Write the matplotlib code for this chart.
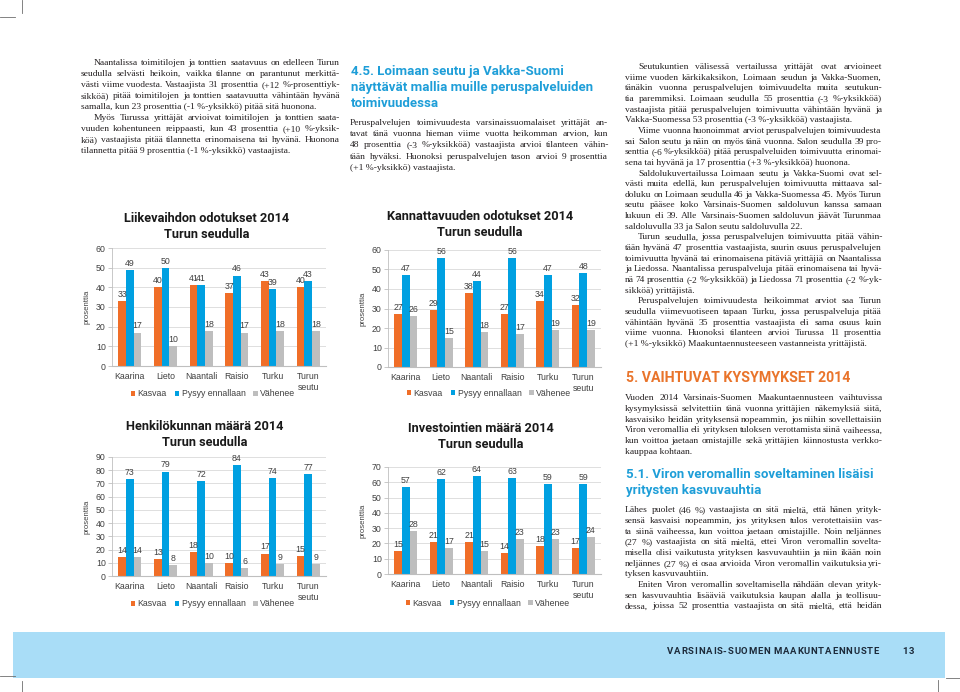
import numpy as np
import matplotlib.pyplot as plt
from matplotlib.patches import Rectangle
from matplotlib.lines import Line2D

plt.rcParams['font.family'] = 'Liberation Sans'

# --- chart data -------------------------------------------------------------
cats = ['Kaarina', 'Lieto', 'Naantali', 'Raisio', 'Turku', 'Turun\nseutu']
series_names = ['Kasvaa', 'Pysyy ennallaan', 'Vähenee']

liikevaihto_kasvaa = [33, 40, 41, 37, 43, 40]
liikevaihto_pysyy = [49, 50, 41, 46, 39, 43]
liikevaihto_vahenee = [17, 10, 18, 17, 18, 18]

kannattavuus_kasvaa = [27, 29, 38, 27, 34, 32]
kannattavuus_pysyy = [47, 56, 44, 56, 47, 48]
kannattavuus_vahenee = [26, 15, 18, 17, 19, 19]

henkilokunta_kasvaa = [14, 13, 18, 10, 17, 15]
henkilokunta_pysyy = [73, 79, 72, 84, 74, 77]
henkilokunta_vahenee = [14, 8, 10, 6, 9, 9]

investoinnit_kasvaa = [15, 21, 21, 14, 18, 17]
investoinnit_pysyy = [57, 62, 64, 63, 59, 59]
investoinnit_vahenee = [28, 17, 15, 23, 23, 24]

# --- page text --------------------------------------------------------------
left_par1 = [
    'Naantalissa toimitilojen ja tonttien saatavuus on edelleen Turun',
    'seudulla selvästi heikoin, vaikka tilanne on parantunut merkittä-',
    'västi viime vuodesta. Vastaajista 31 prosenttia (+12 %-prosenttiyk-',
    'sikköä) pitää toimitilojen ja tonttien saatavuutta vähintään hyvänä',
    'samalla, kun 23 prosenttia (-1 %-yksikkö) pitää sitä huonona.',
]
left_par2 = [
    'Myös Turussa yrittäjät arvioivat toimitilojen ja tonttien saata-',
    'vuuden kohentuneen reippaasti, kun 43 prosenttia (+10 %-yksik-',
    'köä) vastaajista pitää tilannetta erinomaisena tai hyvänä. Huonona',
    'tilannetta pitää 9 prosenttia (-1 %-yksikkö) vastaajista.',
]
mid_heading = ['4.5. Loimaan seutu ja Vakka-Suomi',
               'näyttävät mallia muille peruspalveluiden',
               'toimivuudessa']
mid_par = [
    'Peruspalvelujen toimivuudesta varsinaissuomalaiset yrittäjät an-',
    'tavat tänä vuonna hieman viime vuotta heikomman arvion, kun',
    '48 prosenttia (-3 %-yksikköä) vastaajista arvioi tilanteen vähin-',
    'tään hyväksi. Huonoksi peruspalvelujen tason arvioi 9 prosenttia',
    '(+1 %-yksikkö) vastaajista.',
]
right_pars = [
    ['Seutukuntien välisessä vertailussa yrittäjät ovat arvioineet',
     'viime vuoden kärkikaksikon, Loimaan seudun ja Vakka-Suomen,',
     'tänäkin vuonna peruspalvelujen toimivuudelta muita seutukun-',
     'tia paremmiksi. Loimaan seudulla 55 prosenttia (-3 %-yksikköä)',
     'vastaajista pitää peruspalvelujen toimivuutta vähintään hyvänä ja',
     'Vakka-Suomessa 53 prosenttia (-3 %-yksikköä) vastaajista.'],
    ['Viime vuonna huonoimmat arviot peruspalvelujen toimivuudesta',
     'sai Salon seutu ja näin on myös tänä vuonna. Salon seudulla 39 pro-',
     'senttia (-6 %-yksikköä) pitää peruspalveluiden toimivuutta erinomai-',
     'sena tai hyvänä ja 17 prosenttia (+3 %-yksikköä) huonona.'],
    ['Saldolukuvertailussa Loimaan seutu ja Vakka-Suomi ovat sel-',
     'västi muita edellä, kun peruspalvelujen toimivuutta mittaava sal-',
     'doluku on Loimaan seudulla 46 ja Vakka-Suomessa 45. Myös Turun',
     'seutu pääsee koko Varsinais-Suomen saldoluvun kanssa samaan',
     'lukuun eli 39. Alle Varsinais-Suomen saldoluvun jäävät Turunmaa',
     'saldoluvulla 33 ja Salon seutu saldoluvulla 22.'],
    ['Turun seudulla, jossa peruspalvelujen toimivuutta pitää vähin-',
     'tään hyvänä 47 prosenttia vastaajista, suurin osuus peruspalvelujen',
     'toimivuutta hyvänä tai erinomaisena pitäviä yrittäjiä on Naantalissa',
     'ja Liedossa. Naantalissa peruspalveluja pitää erinomaisena tai hyvä-',
     'nä 74 prosenttia (-2 %-yksikköä) ja Liedossa 71 prosenttia (-2 %-yk-',
     'sikköä) yrittäjistä.'],
    ['Peruspalvelujen toimivuudesta heikoimmat arviot saa Turun',
     'seudulla viimevuotiseen tapaan Turku, jossa peruspalveluja pitää',
     'vähintään hyvänä 35 prosenttia vastaajista eli sama osuus kuin',
     'viime vuonna. Huonoksi tilanteen arvioi Turussa 11 prosenttia',
     '(+1 %-yksikkö) Maakuntaennusteeseen vastanneista yrittäjistä.'],
]
section5_heading = '5. VAIHTUVAT KYSYMYKSET 2014'
section5_par = [
    'Vuoden 2014 Varsinais-Suomen Maakuntaennusteen vaihtuvissa',
    'kysymyksissä selvitettiin tänä vuonna yrittäjien näkemyksiä siitä,',
    'kasvaisiko heidän yrityksensä nopeammin, jos niihin sovellettaisiin',
    'Viron veromallia eli yrityksen tuloksen verottamista siinä vaiheessa,',
    'kun voittoa jaetaan omistajille sekä yrittäjien kiinnostusta verkko-',
    'kauppaa kohtaan.',
]
section51_heading = ['5.1. Viron veromallin soveltaminen lisäisi',
                     'yritysten kasvuvauhtia']
section51_par1 = [
    'Lähes puolet (46 %) vastaajista on sitä mieltä, että hänen yrityk-',
    'sensä kasvaisi nopeammin, jos yrityksen tulos verotettaisiin vas-',
    'ta siinä vaiheessa, kun voittoa jaetaan omistajille. Noin neljännes',
    '(27 %) vastaajista on sitä mieltä, ettei Viron veromallin sovelta-',
    'misella olisi vaikutusta yrityksen kasvuvauhtiin ja niin ikään noin',
    'neljännes (27 %) ei osaa arvioida Viron veromallin vaikutuksia yri-',
    'tyksen kasvuvauhtiin.',
]
section51_par2 = [
    'Eniten Viron veromallin soveltamisella nähdään olevan yrityk-',
    'sen kasvuvauhtia lisääviä vaikutuksia kaupan alalla ja teollisuu-',
    'dessa, joissa 52 prosenttia vastaajista on sitä mieltä, että heidän',
]
footer_text = 'VARSINAIS-SUOMEN MAAKUNTAENNUSTE'
page_number = '13'

# --- styles -----------------------------------------------------------------
W, H = 960, 692
ORANGE = '#F06E28'
BLUE = '#00A0E1'
GRAY = '#BEBEBE'
HEAD_BLUE = '#1E9ED8'
HEAD_ORANGE = '#E9742B'
TXT = '#231F20'
SERIF = 'Liberation Serif'
HEAD = 'Roboto'
BODY = 6.8
LS = 10.65
MIN_GAP = 1.8

fig = plt.figure(figsize=(9.6, 6.92), dpi=100)
renderer = fig.canvas.get_renderer()


def P(x, y):
    # page pixels (from top-left) -> figure fraction
    return x / W, 1 - y / H


def justify(line, x0, x1, y):
    words = line.split(' ')
    items = [fig.text(0, 0, w, fontsize=BODY, family=SERIF, color=TXT,
                      va='baseline') for w in words]
    widths = [t.get_window_extent(renderer).width for t in items]
    n_gaps = max(len(words) - 1, 1)
    gap = (x1 - x0 - sum(widths)) / n_gaps
    if gap < MIN_GAP:
        # too long a line: squeeze the type a little instead of the spaces
        k = (x1 - x0 - MIN_GAP * n_gaps) / sum(widths)
        for t in items:
            t.set_fontsize(BODY * k)
        widths = [wd * k for wd in widths]
        gap = MIN_GAP
    x = x0
    for t, wd in zip(items, widths):
        t.set_position(P(x, y))
        x += wd + gap


def paragraph(lines, x0, x1, y0, indent=13, ls=LS, last_full=False):
    for i, line in enumerate(lines):
        y = y0 + i * ls + 3
        xs = x0 + (indent if i == 0 else 0)
        if i == len(lines) - 1 and not last_full:
            fig.text(*P(xs, y), line, fontsize=BODY, family=SERIF,
                     color=TXT, va='baseline')
        else:
            justify(line, xs, x1, y)


def tracked(s, x, y, size, track, color):
    for ch in s:
        if ch == ' ':
            x += size * 0.35
            continue
        t = fig.text(*P(x, y), ch, fontsize=size, family=HEAD,
                     weight='bold', color=color, va='baseline')
        x += t.get_window_extent(renderer).width + track


# --- body text --------------------------------------------------------------
paragraph(left_par1, 81, 340, 62, ls=11.0)
paragraph(left_par2, 81, 340, 62 + 5 * 11.0, ls=11.0)

for i, line in enumerate(mid_heading):
    fig.text(*P(351, 70 + i * 16 + 5), line, fontsize=9.5, family=HEAD,
             weight='bold', color=HEAD_BLUE, va='baseline')
paragraph(mid_par, 350, 608, 122, indent=0, ls=11.2)

y = 66
for par in right_pars:
    paragraph(par, 625, 882, y)
    y += len(par) * LS

fig.text(*P(626, 376 + 5.5), section5_heading, fontsize=10.2, family=HEAD,
         weight='bold', color=HEAD_ORANGE, va='baseline')
paragraph(section5_par, 625, 882, 397.5, indent=0)
for i, line in enumerate(section51_heading):
    fig.text(*P(626, 473 + i * 16 + 5), line, fontsize=9.5, family=HEAD,
             weight='bold', color=HEAD_BLUE, va='baseline')
paragraph(section51_par1, 625, 882, 509.5, indent=0)
paragraph(section51_par2, 625, 882, 509.5 + 7 * LS, last_full=True)

# --- footer band and crop marks ----------------------------------------------
fig.add_artist(Rectangle(P(13, 678), (945 - 13) / W, 46 / H,
                         transform=fig.transFigure, color='#A9DDF7', lw=0))
tracked(footer_text, 667, 654.5, 6.8, 0.8, '#1C2A3A')
tracked(page_number, 902, 654.5, 6.8, 0.8, '#1C2A3A')

crop = [((22, 22), (0, 13)), ((0, 15), (17, 17)),
        ((0, 15), (676, 676)), ((22, 22), (681, 692)),
        ((938, 938), (680, 692)), ((946, 960), (678, 678))]
for xs, ys in crop:
    fig.add_artist(Line2D([v / W for v in xs], [1 - v / H for v in ys],
                          transform=fig.transFigure, color='#6E6E6E', lw=0.6))

# --- charts ------------------------------------------------------------------
charts = [
    (['Liikevaihdon odotukset 2014', 'Turun seudulla'],
     liikevaihto_kasvaa, liikevaihto_pysyy, liikevaihto_vahenee, 60,
     (112, 248, 326, 366), (207, 218, 233), (213, 394), 87),
    (['Kannattavuuden odotukset 2014', 'Turun seudulla'],
     kannattavuus_kasvaa, kannattavuus_pysyy, kannattavuus_vahenee, 60,
     (388, 250, 601, 367), (480, 216, 232), (489, 393), 363),
    (['Henkilökunnan määrä 2014', 'Turun seudulla'],
     henkilokunta_kasvaa, henkilokunta_pysyy, henkilokunta_vahenee, 90,
     (112, 457, 326, 576), (205, 426, 442), (213, 604), 87),
    (['Investointien määrä 2014', 'Turun seudulla'],
     investoinnit_kasvaa, investoinnit_pysyy, investoinnit_vahenee, 70,
     (388, 467, 601, 574), (481, 427, 443), (488, 603), 363),
]

x = np.arange(len(cats))
w = 0.217
for title, kasvaa, pysyy, vahenee, ymax, rect, tpos, lpos, ylx in charts:
    l, t, r, b = rect
    ax = fig.add_axes([l / W, 1 - b / H, (r - l) / W, (b - t) / H])
    bars = []
    for off, vals, col in [(-w, kasvaa, ORANGE), (0, pysyy, BLUE), (w, vahenee, GRAY)]:
        bc = ax.bar(x + off, vals, w, color=col)
        ax.bar_label(bc, padding=1.5, fontsize=6.3, color='#404040')
        bars.append(bc)
    ax.set_xlim(-0.5, len(cats) - 0.5)
    ax.set_ylim(0, ymax)
    ax.set_yticks(np.arange(0, ymax + 1, 10))
    ax.set_xticks(x, cats)
    for lab in ax.get_xticklabels():
        lab.set_linespacing(1.35)
    ax.tick_params(axis='x', length=0, pad=4.3, labelsize=6.3, labelcolor='#404040')
    ax.tick_params(axis='y', length=3, width=0.6, color='#BFBFBF', pad=1.5,
                   labelsize=6.3, labelcolor='#404040')
    ax.yaxis.grid(True, color='#D9D9D9', lw=0.6)
    ax.set_axisbelow(True)
    for side in ['top', 'right']:
        ax.spines[side].set_visible(False)
    ax.spines['left'].set_color('#BFBFBF')
    ax.spines['left'].set_linewidth(0.6)
    ax.spines['bottom'].set_color('#BFBFBF')
    ax.spines['bottom'].set_linewidth(0.8)
    ax.set_facecolor('none')

    cx, ty1, ty2 = tpos
    fig.text(*P(cx, ty1 + 4.5), title[0], fontsize=9.2, family=HEAD,
             weight='bold', color='#1A1A1A', ha='center', va='baseline')
    fig.text(*P(cx, ty2 + 4.5), title[1], fontsize=9.2, family=HEAD,
             weight='bold', color='#1A1A1A', ha='center', va='baseline')
    fig.text(*P(ylx, (t + b) / 2), 'prosenttia', fontsize=5.6, rotation=90,
             color='#404040', ha='center', va='center')
    ax.legend(bars, series_names, loc='center', bbox_to_anchor=P(*lpos),
              bbox_transform=fig.transFigure, ncol=3, frameon=False,
              fontsize=6.3, handlelength=0.55, handleheight=0.55,
              handletextpad=0.25, columnspacing=0.9, borderpad=0,
              labelcolor='#404040')

fig.savefig('out.png', dpi=100, facecolor='white')
